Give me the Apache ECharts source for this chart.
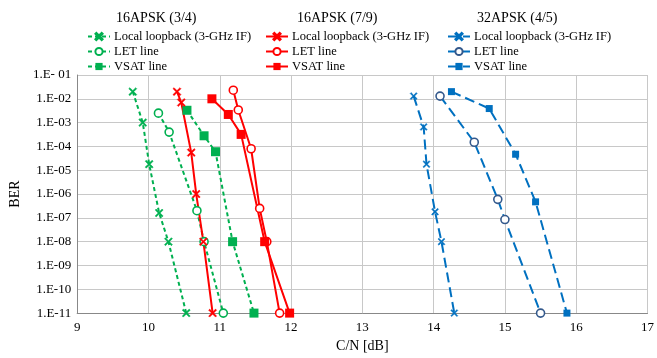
<!DOCTYPE html>
<html><head><meta charset="utf-8">
<script src="https://cdn.jsdelivr.net/npm/echarts@6/dist/echarts.min.js"></script>
<style>html,body{margin:0;padding:0;background:#fff}#c{width:657px;height:358px}</style>
</head><body><div id="c"></div>
<script>
// C/N [dB] and BER values
const g_loop_cn = [9.78, 9.92, 10.01, 10.15, 10.28, 10.53];
const g_loop_ber = [2e-2, 1e-3, 1.8e-5, 1.6e-7, 1e-8, 1e-11];
const g_let_cn = [10.14, 10.29, 10.68, 10.78, 11.05];
const g_let_ber = [2.5e-3, 4e-4, 2e-7, 1e-8, 1e-11];
const g_vsat_cn = [10.54, 10.78, 10.94, 11.18, 11.48];
const g_vsat_ber = [3.3e-3, 2.8e-4, 6e-5, 1e-8, 1e-11];

const r_loop_cn = [10.40, 10.46, 10.60, 10.67, 10.77, 10.90];
const r_loop_ber = [2e-2, 7e-3, 5.5e-5, 1e-6, 1e-8, 1e-11];
const r_let_cn = [11.19, 11.26, 11.44, 11.56, 11.66, 11.84];
const r_let_ber = [2.3e-2, 3.4e-3, 8e-5, 2.5e-7, 1e-8, 1e-11];
const r_vsat_cn = [10.89, 11.12, 11.30, 11.63, 11.98];
const r_vsat_ber = [1e-2, 2.2e-3, 3.2e-4, 1e-8, 1e-11];

const b_loop_cn = [13.72, 13.86, 13.90, 14.02, 14.11, 14.29];
const b_loop_ber = [1.3e-2, 6.6e-4, 1.8e-5, 1.8e-7, 1e-8, 1e-11];
const b_let_cn = [14.09, 14.57, 14.90, 15.00, 15.50];
const b_let_ber = [1.3e-2, 1.5e-4, 6e-7, 8.5e-8, 1e-11];
const b_vsat_cn = [14.25, 14.78, 15.15, 15.43, 15.87];
const b_vsat_ber = [2e-2, 3.9e-3, 4.7e-5, 4.7e-7, 1e-11];

const groupTitles = ['16APSK (3/4)', '16APSK (7/9)', '32APSK (4/5)'];
const seriesLabels = ['Local loopback (3-GHz IF)', 'LET line', 'VSAT line'];
const xTicks = [9, 10, 11, 12, 13, 14, 15, 16, 17];
const yTickLabels = ['1.E-11', '1.E-10', '1.E-09', '1.E-08', '1.E-07', '1.E-06',
                     '1.E-05', '1.E-04', '1.E-03', '1.E-02', '1.E- 01'];

const FONT = 'Liberation Serif';
const GREEN = '#00B050', RED = '#FF0000', BLUE = '#0070C0';
const XSYM = 'path://M0,1.3 L1.3,0 L5,3.7 L8.7,0 L10,1.3 L6.3,5 L10,8.7 L8.7,10 L5,6.3 L1.3,10 L0,8.7 L3.7,5 Z';

function pts(cn, ber) { return cn.map((c, i) => [c, ber[i]]); }

function mk(group, idx, cn, ber, color, dash, symbol, size, open, borderColor) {
  return {
    name: groupTitles[group] + '|' + seriesLabels[idx],
    type: 'line',
    data: pts(cn, ber),
    symbol: open ? 'circle' : symbol,
    symbolSize: size,
    showAllSymbol: true,
    lineStyle: { color: color, width: 2, type: dash },
    itemStyle: open ? { color: '#fff', borderColor: borderColor || color, borderWidth: 1.6 }
                    : { color: color, borderColor: color, borderWidth: symbol === XSYM ? 0.5 : 0 },
    emphasis: { disabled: true },
    z: 3
  };
}

const series = [
  mk(0, 0, g_loop_cn, g_loop_ber, GREEN, [4, 3], XSYM, 8),
  mk(0, 1, g_let_cn, g_let_ber, GREEN, [4, 3], 'circle', 8, true),
  mk(0, 2, g_vsat_cn, g_vsat_ber, GREEN, [4, 3], 'rect', 9),
  mk(1, 0, r_loop_cn, r_loop_ber, RED, 'solid', XSYM, 8),
  mk(1, 1, r_let_cn, r_let_ber, RED, 'solid', 'circle', 8, true),
  mk(1, 2, r_vsat_cn, r_vsat_ber, RED, 'solid', 'rect', 9),
  mk(2, 0, b_loop_cn, b_loop_ber, BLUE, [10, 5], XSYM, 7),
  mk(2, 1, b_let_cn, b_let_ber, BLUE, [10, 5], 'circle', 8, true, '#34598C'),
  mk(2, 2, b_vsat_cn, b_vsat_ber, BLUE, [10, 5], 'rect', 7)
];

const legendLefts = [87, 265, 447];
const titleLefts = [116, 297, 477];

const chart = echarts.init(document.getElementById('c'), null, { renderer: 'canvas' });
chart.setOption({
  animation: false,
  backgroundColor: '#fff',
  textStyle: { fontFamily: FONT },
  title: groupTitles.map((t, i) => ({
    text: t, left: titleLefts[i], top: 11, padding: 0,
    textStyle: { fontFamily: FONT, fontSize: 14, fontWeight: 'normal', color: '#000' }
  })),
  legend: groupTitles.map((t, i) => ({
    orient: 'vertical', left: legendLefts[i], top: 30,
    itemWidth: 22, itemHeight: 9, itemGap: 2, padding: 0,
    data: seriesLabels.map(s => t + '|' + s),
    formatter: n => n.split('|')[1],
    selectedMode: false,
    textStyle: { fontFamily: FONT, fontSize: 12.5, lineHeight: 13, color: '#000', padding: [0, 0, 0, -1] }
  })),
  grid: { left: 77, right: 2, top: 75, bottom: 40, containLabel: false },
  xAxis: {
    type: 'value', min: 9, max: 17, interval: 1,
    name: 'C/N [dB]', nameLocation: 'middle', nameGap: 25,
    nameTextStyle: { fontFamily: FONT, fontSize: 14, color: '#000' },
    axisLine: { lineStyle: { color: '#888', width: 1 } },
    axisTick: { show: false },
    axisLabel: { fontFamily: FONT, fontSize: 13, color: '#000', margin: 8,
      formatter: v => xTicks.includes(v) ? String(v) : '' },
    splitLine: { show: true, lineStyle: { color: '#C8C8C8', width: 1 } }
  },
  yAxis: {
    type: 'log', logBase: 10, min: 1e-11, max: 1e-1, interval: 1,
    name: 'BER', nameLocation: 'middle', nameGap: 46,
    nameTextStyle: { fontFamily: FONT, fontSize: 14, color: '#000' },
    axisLine: { show: true, lineStyle: { color: '#888', width: 1 } },
    axisTick: { show: false },
    axisLabel: { fontFamily: FONT, fontSize: 13, color: '#000', margin: 6,
      formatter: v => { const e = Math.round(Math.log10(v)); return yTickLabels[e + 11] || ''; } },
    splitLine: { show: true, lineStyle: { color: '#C8C8C8', width: 1 } }
  },
  series: series
});
</script></body></html>
